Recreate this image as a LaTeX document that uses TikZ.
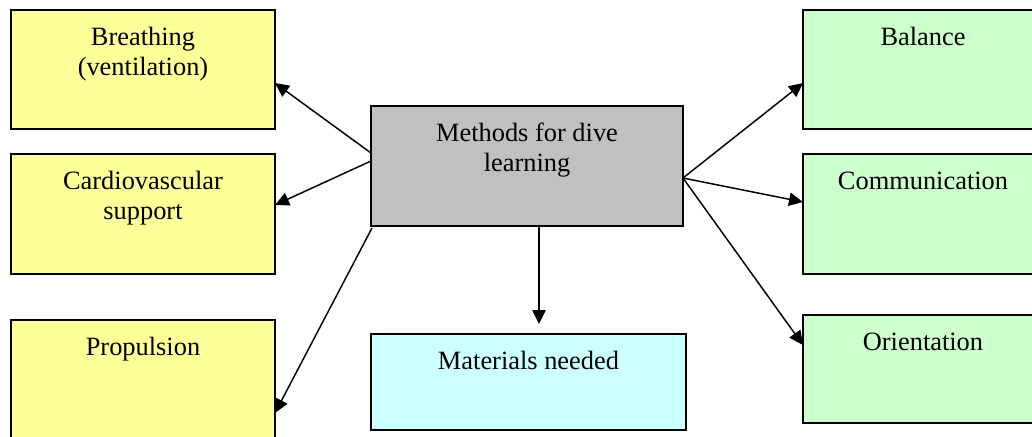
\documentclass[tikz,border=0pt]{standalone}
\usepackage{fontspec}
\setmainfont{Liberation Serif}
\usetikzlibrary{arrows.meta,calc}
\newdimen\pxu \pxu=0.75pt
% box content: width, height (in px units), text with first baseline 35px below the top
\newcommand\boxtext[3]{\parbox[t][#2\pxu][t]{#1\pxu}{\centering\fontsize{19.8pt}{22.5pt}\selectfont\rule{0pt}{35\pxu}#3}}
\definecolor{yel}{HTML}{FFFF99}
\definecolor{gry}{HTML}{C0C0C0}
\definecolor{cyn}{HTML}{CCFFFF}
\definecolor{grn}{HTML}{CCFFCC}
\tikzset{
  x=0.75pt, y=-0.75pt,
  topic/.style={draw=black, line width=1.5pt, inner sep=0pt, outer sep=0pt, anchor=north west},
  link/.style={line width=1.1pt, -{Triangle[length=10.5pt,width=10pt]}}
}
\begin{document}
\begin{tikzpicture}
\clip (0,0) rectangle (1032,436);
\fill[white] (0,0) rectangle (1032,436);

% left column
\node[topic, fill=yel] (breath) at (11,10) {\boxtext{264}{119}{Breathing\\(ventilation)}};
\node[topic, fill=yel] (cardio) at (11,154) {\boxtext{264}{120}{Cardiovascular\\support}};
\node[topic, fill=yel] (prop) at (11,320) {\boxtext{264}{130}{Propulsion}};

% centre
\node[topic, fill=gry] (ctr) at (371,106) {\boxtext{312}{120}{Methods for dive\\learning}};
\node[topic, fill=cyn] (mat) at (371,334) {\boxtext{315}{96}{Materials needed}};

% right column
\node[topic, fill=grn] (bal) at (803,10) {\boxtext{240}{119}{Balance}};
\node[topic, fill=grn] (comm) at (803,154) {\boxtext{240}{120}{Communication}};
\node[topic, fill=grn] (orient) at (803,315) {\boxtext{240}{108}{Orientation}};

% connectors
\draw[link] ($(ctr.north west)+(0,47)$) -- ($(breath.north east)+(0,73)$);
\draw[link] ($(ctr.north west)+(0,55)$) -- ($(cardio.north east)+(0,51)$);
\draw[link] ($(ctr.south west)+(1,2)$) -- ($(prop.north east)+(0,93)$);
\draw[link] ($(ctr.south west)+(168,0)$) -- ($(mat.north west)+(168,-10)$);
\draw[link] ($(ctr.north east)+(0,72)$) -- ($(bal.north west)+(0,73)$);
\draw[link] ($(ctr.north east)+(0,72)$) -- ($(comm.north west)+(0,48)$);
\draw[link] ($(ctr.north east)+(0,72)$) -- ($(orient.north west)+(0,30)$);
\end{tikzpicture}
\end{document}
